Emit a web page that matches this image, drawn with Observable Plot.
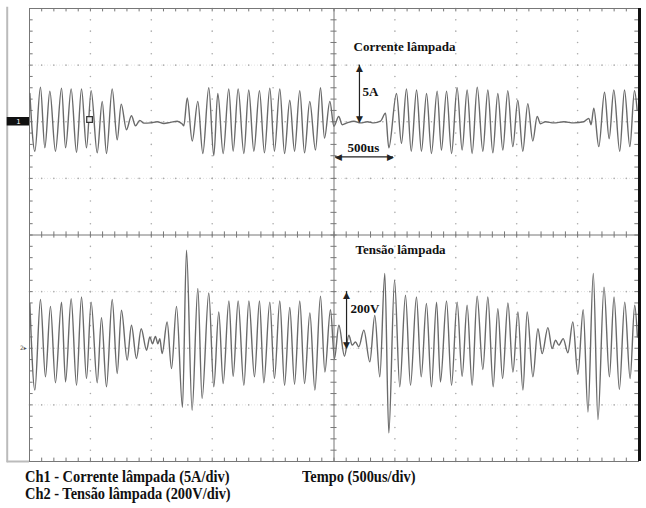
<!DOCTYPE html>
<html><head><meta charset="utf-8">
<script src="https://cdn.jsdelivr.net/npm/d3@7"></script>
<script src="https://cdn.jsdelivr.net/npm/@observablehq/plot@0.6"></script>
<style>
body{margin:0;background:#fff;}
#wrap{position:relative;width:646px;height:508px;overflow:hidden;background:#fff;}
#chart{position:absolute;left:0;top:0;}
.cap{position:absolute;font-family:"Liberation Serif","Times New Roman",serif;font-weight:bold;font-size:16px;line-height:16px;white-space:nowrap;transform:scaleX(0.9);transform-origin:0 0;color:#111;}
</style></head><body>
<div id="wrap"><div id="chart"></div>
<div class="cap" style="left:25px;top:469px">Ch1 - Corrente lâmpada (5A/div)</div>
<div class="cap" style="left:25px;top:486px">Ch2 - Tensão lâmpada (200V/div)</div>
<div class="cap" style="left:302px;top:469px">Tempo (500us/div)</div>
</div>
<script>
// Ch1 – lamp current (A): extrema, time in µs
const t1 = [3,44,90,126,167,213,263,296,342,386,427,468,506,556,597,632,679,720,753,796,837,870,906,939,993,1048,1103,1158,1213,1254,1267,1295,1336,1382,1423,1472,1513,1546,1590,1636,1672,1713,1760,1800,1842,1888,1929,1973,2011,2055,2094,2137,2176,2219,2258,2301,2348,2389,2422,2466,2499,2539,2567,2608,2663,2718,2773,2827,2882,2923,2950,3013,3054,3095,3134,3178,3218,3260,3300,3347,3382,3424,3465,3511,3552,3593,3634,3676,3722,3763,3804,3845,3886,3927,3968,4009,4050,4091,4132,4168,4195,4236,4305,4387,4469,4551,4592,4611,4633,4674,4721,4759,4797,4846,4885,4929,4967,4989];
const i1 = [2.5,-2.6,3.06,-2.3,2.7,-2.6,2.97,-2.3,2.9,-2.7,2.9,-2.3,2.75,-2.75,1.8,-2.8,2.9,-1.6,1.56,-0.7,0.53,-0.35,0.12,-0.12,-0.1,0,-0.15,-0.05,0.05,-0.2,-0.35,2.1,-1.7,1.8,-2.8,3.0,-3.0,2.5,-2.8,2.9,-2.6,2.9,-2.8,2.8,-2.6,2.75,-2.75,2.97,-2.6,2.9,-2.8,1.9,-2.6,2.75,-2.75,1.8,-2.5,3.0,-1.45,1.8,-0.4,0.47,-0.26,-0.1,0.05,-0.1,0,-0.1,0.05,0.76,-2.3,2.5,-1.9,2.9,-2.6,2.8,-2.6,2.5,-2.8,2.7,-2.5,2.7,-2.8,3.0,-2.5,2.8,-2.8,3.06,-2.6,2.8,-2.75,2.5,-2.5,2.75,-2.2,1.9,-2.6,1.6,-1.7,0.47,-0.18,0,-0.1,0,-0.1,0,0.3,-0.26,1.2,-2.2,2.6,-1.5,2.8,-2.6,2.8,-2.2,2.75,1.0];

// Ch2 – lamp voltage (V)
const t2 = [3,44,90,131,172,213,263,296,342,386,427,468,506,556,591,632,679,720,755,802,837,878,917,961,988,1010,1034,1054,1070,1089,1130,1166,1207,1256,1289,1335,1382,1417,1472,1513,1554,1590,1637,1672,1713,1760,1801,1847,1888,1924,1973,2011,2055,2094,2137,2176,2219,2258,2302,2343,2389,2425,2471,2504,2540,2586,2622,2649,2676,2704,2745,2794,2835,2876,2917,2950,2997,3040,3087,3128,3177,3216,3259,3300,3342,3374,3424,3465,3511,3552,3593,3634,3675,3722,3763,3807,3845,3884,3928,3969,4010,4051,4086,4133,4174,4209,4256,4291,4319,4346,4382,4420,4461,4502,4546,4585,4629,4667,4717,4761,4799,4843,4887,4931,4969,4991];
const v2 = [158,-148,172,-101,148,-122,163,-119,175,-131,181,-107,163,-122,108,-136,172,-89,134,-42,81,-36,69,-7,40,16,42,16,34,-19,93,-72,148,-209,346,-219,211,-178,195,-136,128,-125,167,-99,167,-131,167,-101,167,-122,163,-107,167,-131,144,-127,167,-125,125,-148,184,-84,136,-36,81,-28,46,11,22,5,64,-48,116,-101,264,-299,240,-136,187,-131,181,-101,158,-136,163,-119,167,-131,163,-99,152,-131,184,-75,181,-136,140,-107,160,-84,128,-148,128,-101,69,-19,73,-1,28,11,34,-16,93,-92,136,-225,264,-252,216,-101,181,-146,163,-107,152,40];

// scales: 10 div x 500 µs, 8 div vertical; Ch1 5 A/div (center +2 div), Ch2 200 V/div (center -2 div)
const ampsPerDiv = 5, voltsPerDiv = 200;
const y1 = a => 2 + a / ampsPerDiv;
const y2 = v => -2 + v / voltsPerDiv;
const ch1 = t1.map((t, k) => ({t, y: y1(i1[k])}));
const ch2 = t2.map((t, k) => ({t, y: y2(v2[k])}));

const xMajor = d3.range(0, 11).map(k => k * 500);
const xMinor = d3.range(0, 51).map(k => k * 100);
const yMajor = d3.range(-4, 5);
const yMinor = d3.range(-20, 21).map(k => k / 5);
const gridV = [];
xMajor.filter(x => x > 0 && x < 5000 && x !== 2500).forEach(x => yMinor.forEach(y => gridV.push({x, y})));
const gridH = [];
yMajor.filter(y => y > -4 && y < 4 && y !== 0).forEach(y => xMinor.forEach(x => gridH.push({x, y})));

const serif = "Liberation Serif, Times New Roman, serif";
const lab = {fontFamily: serif, fontWeight: "bold", fontSize: 13, textAnchor: "start", fill: "#111"};
const head = {fontFamily: "DejaVu Sans", fontSize: 9, fill: "#222"};

const chart = Plot.plot({
  width: 646, height: 470,
  marginLeft: 29, marginRight: 8, marginTop: 8, marginBottom: 9,
  x: {domain: [0, 5000], axis: null},
  y: {domain: [-4, 4], axis: null},
  style: {background: "transparent", overflow: "visible"},
  marks: [
    Plot.ruleY(yMajor.filter(y => y > -4 && y < 4 && y !== 0), {stroke: "#e2e2e2", strokeDasharray: "1,2"}),
    Plot.dot(gridV, {x: "x", y: "y", r: 0.8, fill: "#aaa", stroke: null}),
    Plot.dot(gridH, {x: "x", y: "y", r: 0.8, fill: "#aaa", stroke: null}),
    // center axes with minor ticks
    Plot.ruleX([2500], {stroke: "#777"}),
    Plot.ruleY([0], {stroke: "#777"}),
    Plot.ruleX(xMinor, {x: d => d, y1: -0.055, y2: 0.055, stroke: "#777"}),
    Plot.ruleY(yMinor, {y: d => d, x1: 2475, x2: 2525, stroke: "#777"}),
    // border ticks
    Plot.ruleX(xMinor, {x: d => d, y1: 4, y2: 3.94, stroke: "#777"}),
    Plot.ruleX(xMinor, {x: d => d, y1: -4, y2: -3.94, stroke: "#777"}),
    Plot.ruleY(yMinor, {y: d => d, x1: 0, x2: 30, stroke: "#777"}),
    Plot.ruleY(yMinor, {y: d => d, x1: 4970, x2: 5000, stroke: "#777"}),
    Plot.frame({stroke: "#777"}),
    Plot.ruleX([5000], {stroke: "#111", strokeWidth: 3, dx: 1}),
    Plot.ruleX([-183], {y1: -4.02, y2: 4.02, stroke: "#bbb", strokeWidth: 2}),
    Plot.ruleY([-4], {x1: -183, x2: 0, stroke: "#bbb", strokeWidth: 2}),
    // channel markers
    Plot.rect([0], {x1: -183, x2: 0, y1: 2 - 0.075, y2: 2 + 0.075, fill: "#111"}),
    Plot.text(["1"], {x: -90, y: 2, text: d => d, fill: "#fff", fontSize: 7, fontFamily: "DejaVu Sans"}),
    Plot.text(["2▸"], {x: -50, y: -2, text: d => d, fill: "#555", fontSize: 6, fontFamily: "DejaVu Sans"}),
    // traces
    Plot.line(ch1, {x: "t", y: "y", curve: "monotone-x", stroke: "#6a6a6a", strokeWidth: 1.4}),
    Plot.line(ch2, {x: "t", y: "y", curve: "monotone-x", stroke: "#6a6a6a", strokeWidth: 1.4}),
    Plot.dot([0], {x: 493, y: y1(0.2), symbol: "square", r: 3.2, fill: "#eee", stroke: "#333", strokeWidth: 1.2}),
    // annotations
    Plot.text(["Corrente lâmpada"], {x: 2660, y: y1(6.6), text: d => d, ...lab}),
    Plot.text(["5A"], {x: 2734, y: y1(2.64), text: d => d, ...lab}),
    Plot.text(["500us"], {x: 2611, y: y1(-2.3), text: d => d, ...lab}),
    Plot.text(["Tensão lâmpada"], {x: 2676, y: y2(348), text: d => d, ...lab}),
    Plot.text(["200V"], {x: 2635, y: y2(140), text: d => d, ...lab}),
    // arrows: 5 A, 500 µs, 200 V
    Plot.ruleX([2709], {y1: y1(0), y2: y1(5), stroke: "#222", strokeWidth: 1.2}),
    Plot.text(["▲"], {x: 2709, y: y1(5), dy: 3, text: d => d, ...head}),
    Plot.text(["▼"], {x: 2709, y: y1(0), dy: -3, text: d => d, ...head}),
    Plot.ruleY([y1(-3.1)], {x1: 2512, x2: 2988, stroke: "#222", strokeWidth: 1.2}),
    Plot.text(["◀"], {x: 2512, y: y1(-3.1), dx: 3, text: d => d, ...head}),
    Plot.text(["▶"], {x: 2988, y: y1(-3.1), dx: -3, text: d => d, ...head}),
    Plot.ruleX([2603], {y1: y2(0), y2: y2(200), stroke: "#222", strokeWidth: 1.2}),
    Plot.text(["▲"], {x: 2603, y: y2(200), dy: 3, text: d => d, ...head}),
    Plot.text(["▼"], {x: 2603, y: y2(0), dy: -3, text: d => d, ...head})
  ]
});
document.getElementById("chart").appendChild(chart);
</script>
</body></html>
